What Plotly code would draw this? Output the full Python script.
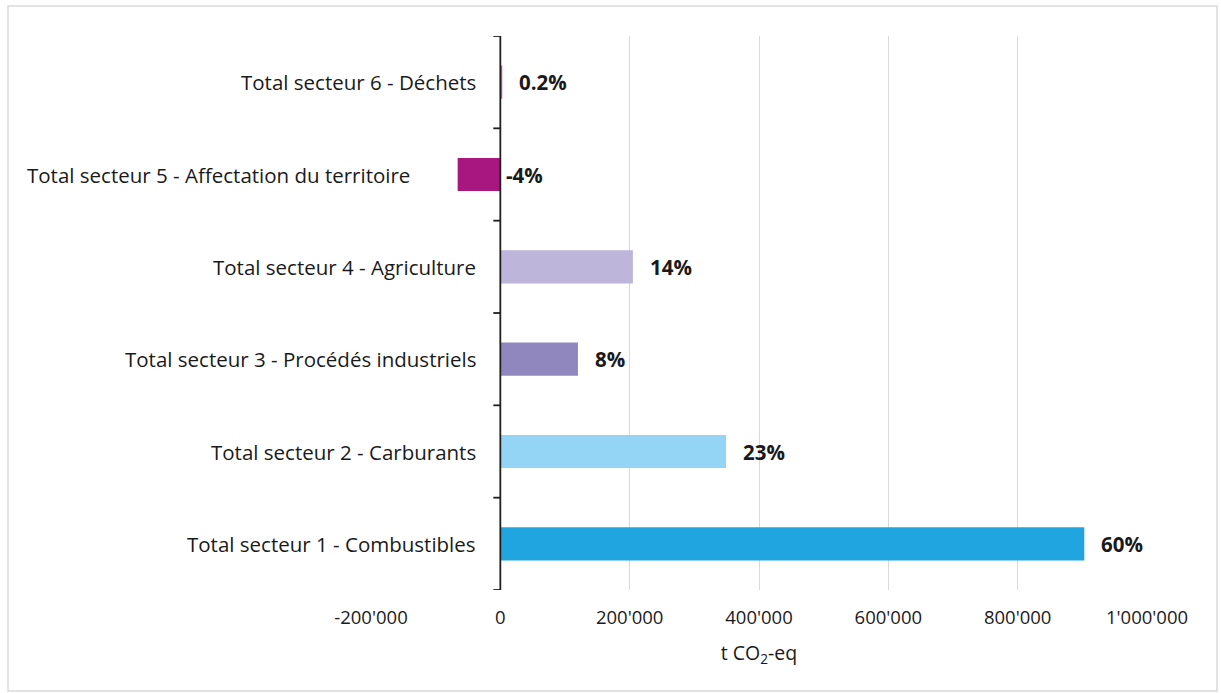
import plotly.graph_objects as go

# Emissions by sector (t CO2-eq), bottom to top
sectors = [
    "Total secteur 1 - Combustibles",
    "Total secteur 2 - Carburants",
    "Total secteur 3 - Procédés industriels",
    "Total secteur 4 - Agriculture",
    "Total secteur 5 - Affectation du territoire",
    "Total secteur 6 - Déchets",
]
emissions = [903000, 349000, 120000, 205000, -66000, 3000]
share_labels = ["60%", "23%", "8%", "14%", "-4%", "0.2%"]
bar_colors = ["#20A5E0", "#94D5F5", "#9087BE", "#BEB5DA", "#A8177F", "#D45AA6"]

tick_values = [-200000, 0, 200000, 400000, 600000, 800000, 1000000]
tick_labels = ["-200'000", "0", "200'000", "400'000", "600'000", "800'000", "1'000'000"]

W, H = 1221, 693
ML, MR, MT, MB = 371, 74, 36, 103
FONT = "Open Sans"
TXT = "#1a1a1a"

fig = go.Figure(
    go.Bar(
        x=emissions,
        y=list(range(len(sectors))),
        orientation="h",
        width=0.36,
        marker=dict(color=bar_colors, line=dict(width=0)),
        hoverinfo="skip",
    )
)

annotations = []
# category names placed next to the zero axis
name_shift = [-22, -22, -22, -22, -88, -22]
for i, name in enumerate(sectors):
    annotations.append(dict(
        x=0, y=i, xref="x", yref="y", text=name, showarrow=False,
        xanchor="right", yanchor="middle", xshift=name_shift[i],
        font=dict(family=FONT, size=20.5, color=TXT),
    ))
# share-of-total labels
for i, (v, lab) in enumerate(zip(emissions, share_labels)):
    annotations.append(dict(
        x=max(v, 0), y=i, xref="x", yref="y", text=f"<b>{lab}</b>",
        showarrow=False, xanchor="left", yanchor="middle",
        xshift=15 if v > 0 else 4,
        font=dict(family=FONT, size=20.5, color=TXT),
    ))

shapes = []
# zero axis with category boundary ticks
shapes.append(dict(type="line", xref="x", yref="y", x0=0, x1=0, y0=-0.5, y1=len(sectors) - 0.5,
                   line=dict(color="#1f1f1f", width=1.8), layer="above"))
for k in range(len(sectors) + 1):
    shapes.append(dict(type="line", xref="x", yref="y", xsizemode="pixel", xanchor=0,
                       x0=-7, x1=0, y0=k - 0.5, y1=k - 0.5,
                       line=dict(color="#1f1f1f", width=1.8), layer="above"))

# outer chart frame
pw = W - ML - MR
ph = H - MT - MB
fx0, fx1 = (8 - ML) / pw, (1217 - ML) / pw
fy0, fy1 = (H - MB - 691) / ph, (H - MB - 6) / ph
shapes.append(dict(type="rect", xref="paper", yref="paper", x0=fx0, x1=fx1, y0=fy0, y1=fy1,
                   line=dict(color="#D9D9D9", width=1.5), layer="below"))

fig.update_layout(
    width=W, height=H,
    margin=dict(l=ML, r=MR, t=MT, b=MB),
    paper_bgcolor="white", plot_bgcolor="white",
    showlegend=False,
    bargap=0.64,
    font=dict(family=FONT, size=18, color=TXT),
    xaxis=dict(
        range=[-200000, 1000000],
        tickvals=tick_values, ticktext=tick_labels,
        showgrid=True, gridcolor="#D9D9D9", gridwidth=1.3,
        zeroline=False, showline=False, ticks="",
        ticklabelstandoff=14,
        tickfont=dict(family=FONT, size=18.5, color=TXT),
        title=dict(text="t CO<sub>2</sub>-eq", font=dict(family=FONT, size=19.5, color=TXT), standoff=18),
        fixedrange=True,
    ),
    yaxis=dict(
        range=[-0.5, len(sectors) - 0.5],
        showticklabels=False, showgrid=False, zeroline=False, showline=False, ticks="",
        fixedrange=True,
    ),
    annotations=annotations,
    shapes=shapes,
)

fig.write_html("out.html")
